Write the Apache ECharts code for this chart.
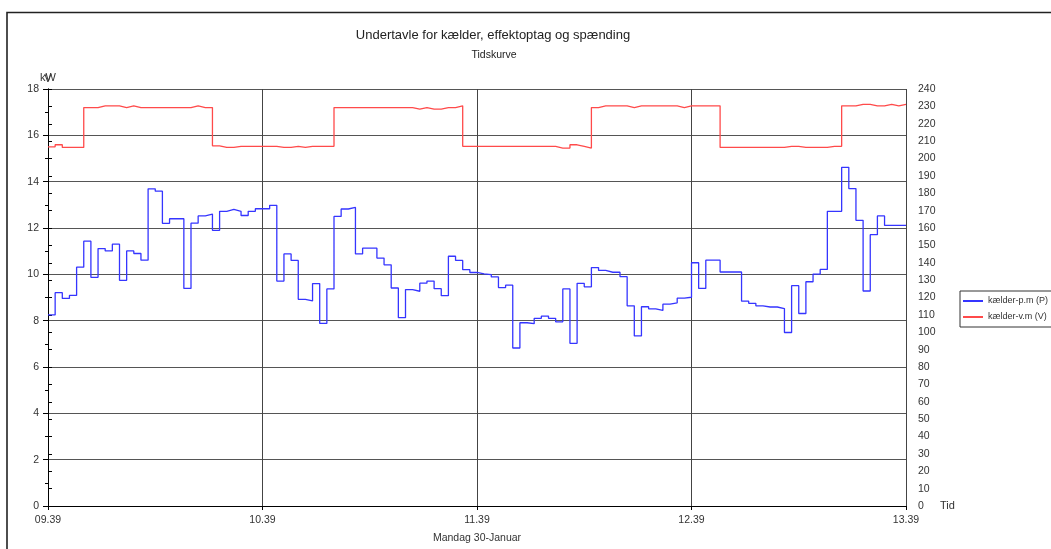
<!DOCTYPE html>
<html>
<head>
<meta charset="utf-8">
<script src="https://cdn.jsdelivr.net/npm/echarts@6/dist/echarts.min.js"></script>
<style>
html,body{margin:0;padding:0;background:#fff;}
#chart{width:1051px;height:549px;}
</style>
</head>
<body>
<div id="chart"></div>
<script>
// Time tick labels (one per hour) and sample step (minutes)
const xTickLabels = ['09.39', '10.39', '11.39', '12.39', '13.39'];
const stepMinutes = 2;
const totalMinutes = 240;

// kælder-p.m (P) in kW, one value per 2-minute interval
const powerKW = [
  8.25, 9.21, 8.96, 9.09, 10.31, 11.43, 9.87, 11.11, 11.01, 11.3,
  9.74, 11.01, 10.9, 10.61, 13.69, 13.59, 12.2, 12.4, 12.4, 9.39,
  12.21, 12.52, 12.6, 11.9, 12.72, 12.8, 12.72, 12.54, 12.72, 12.83,
  12.83, 12.98, 9.71, 10.88, 10.6, 8.92, 8.85, 9.6, 7.88, 9.37,
  12.5, 12.82, 12.89, 10.88, 11.13, 11.13, 10.7, 10.41, 9.41, 8.13,
  9.34, 9.27, 9.62, 9.71, 9.38, 9.08, 10.78, 10.6, 10.2, 10.08,
  10.02, 9.99, 9.89, 9.43, 9.53, 6.82, 7.91, 7.87, 8.1, 8.2,
  8.1, 7.95, 9.37, 7.02, 9.61, 9.46, 10.29, 10.17, 10.09, 10.09,
  9.9, 8.64, 7.34, 8.6, 8.51, 8.44, 8.71, 8.77, 8.97, 9.01,
  10.5, 9.39, 10.61, 10.61, 10.1, 10.1, 10.1, 8.84, 8.75, 8.64,
  8.59, 8.59, 8.52, 7.49, 9.51, 8.31, 9.68, 10.01, 10.21, 12.72,
  12.72, 14.62, 13.7, 12.33, 9.28, 11.71, 12.52, 12.11, 12.11, 12.11
];

// kælder-v.m (V) in volts, one value per 2-minute interval
const voltageV = [
  206.7, 207.9, 206.4, 206.4, 206.4, 229.3, 229.3, 230.3, 230.3, 230.3,
  229.3, 230.3, 229.3, 229.3, 229.3, 229.3, 229.3, 229.3, 229.3, 229.3,
  230.3, 229.3, 229.3, 207.3, 206.4, 206.4, 207.0, 207.0, 207.0, 207.0,
  207.0, 207.0, 206.4, 206.4, 207.0, 206.4, 207.0, 207.0, 207.0, 207.0,
  229.3, 229.3, 229.3, 229.3, 229.3, 229.3, 229.3, 229.3, 229.3, 229.3,
  229.3, 228.4, 229.3, 228.4, 228.4, 229.3, 229.3, 230.3, 207.0, 207.0,
  207.0, 207.0, 207.0, 207.0, 207.0, 207.0, 207.0, 207.0, 207.0, 207.0,
  207.0, 206.0, 206.0, 207.9, 207.0, 206.0, 229.3, 230.3, 230.3, 230.3,
  230.3, 229.3, 230.3, 230.3, 230.3, 230.3, 230.3, 230.3, 229.3, 230.3,
  230.3, 230.3, 230.3, 230.3, 206.4, 206.4, 206.4, 206.4, 206.4, 206.4,
  206.4, 206.4, 206.4, 207.0, 207.0, 206.4, 206.4, 206.4, 206.4, 207.0,
  207.0, 230.3, 230.3, 231.2, 231.2, 230.3, 230.3, 231.2, 230.3, 231.2
];

function toSteps(values) {
  const pts = values.map((v, i) => [i * stepMinutes, v]);
  pts.push([values.length * stepMinutes, values[values.length - 1]]);
  return pts;
}

const FONT = 'Liberation Sans, Arial, sans-serif';
const TXT = '#333';

const chart = echarts.init(document.getElementById('chart'), null, {renderer: 'canvas'});
chart.setOption({
  animation: false,
  backgroundColor: '#fff',
  textStyle: {fontFamily: FONT},
  title: [
    {text: 'Undertavle for kælder, effektoptag og spænding', left: 488, top: 24, textAlign: 'center',
     textStyle: {fontSize: 13, fontWeight: 'normal', color: '#222', fontFamily: FONT}},
    {text: 'Tidskurve', left: 489, top: 45, textAlign: 'center',
     textStyle: {fontSize: 10.5, fontWeight: 'normal', color: '#222', fontFamily: FONT}}
  ],
  legend: {
    orient: 'vertical', left: 960, top: 291,
    padding: [4, 6, 4, 3], itemGap: 4, itemWidth: 20, itemHeight: 2,
    borderColor: '#333', borderWidth: 1,
    icon: 'rect',
    textStyle: {fontSize: 9, color: TXT, fontFamily: FONT, lineHeight: 12},
    data: ['kælder-p.m (P)', 'kælder-v.m (V)']
  },
  grid: {left: 48, right: 145, top: 89, bottom: 41, containLabel: false},
  xAxis: [
    {
      type: 'value', min: 0, max: totalMinutes, interval: 60,
      name: 'Tid', nameLocation: 'end', nameGap: 34,
      nameTextStyle: {fontSize: 11, color: TXT, fontFamily: FONT, verticalAlign: 'middle', padding: [6, 0, 0, 0]},
      axisLine: {show: true, lineStyle: {color: '#000', width: 1}},
      axisTick: {show: true, length: 4, lineStyle: {color: '#000'}},
      axisLabel: {fontSize: 10.5, color: TXT, margin: 9, fontFamily: FONT,
        formatter: v => xTickLabels[Math.round(v / 60)] || ''},
      splitLine: {show: true, lineStyle: {color: '#444', width: 1}}
    },
    {
      type: 'value', min: 0, max: totalMinutes, position: 'bottom',
      name: 'Mandag 30-Januar', nameLocation: 'middle', nameGap: 27,
      nameTextStyle: {fontSize: 10.5, color: TXT, fontFamily: FONT},
      axisLine: {show: false}, axisTick: {show: false}, axisLabel: {show: false}, splitLine: {show: false}
    }
  ],
  yAxis: [
    {
      type: 'value', min: 0, max: 18, interval: 2, position: 'left',
      name: 'kW', nameLocation: 'end', nameGap: 5,
      nameTextStyle: {fontSize: 11, color: TXT, fontFamily: FONT},
      axisLine: {show: true, lineStyle: {color: '#000', width: 1}},
      axisTick: {show: true, length: 5, lineStyle: {color: '#000'}},
      minorTick: {show: true, splitNumber: 2, length: 3, lineStyle: {color: '#000'}},
      axisLabel: {fontSize: 10.5, color: TXT, margin: 9, fontFamily: FONT},
      splitLine: {show: true, lineStyle: {color: '#555', width: 1}}
    },
    {
      type: 'value', min: 0, max: 240, interval: 10, position: 'right',
      name: 'V', nameLocation: 'end', nameGap: 5,
      nameTextStyle: {fontSize: 11, color: TXT, fontFamily: FONT},
      axisLine: {show: true, lineStyle: {color: '#000', width: 1}},
      axisTick: {show: true, length: 4, lineStyle: {color: '#000'}},
      axisLabel: {fontSize: 10.5, color: TXT, margin: 12, fontFamily: FONT},
      splitLine: {show: false}
    }
  ],
  series: [
    {
      name: 'kælder-p.m (P)', type: 'line', step: 'end', xAxisIndex: 0, yAxisIndex: 0,
      data: toSteps(powerKW), showSymbol: false, symbol: 'none',
      itemStyle: {color: '#3535ff'},
      lineStyle: {color: '#3535ff', width: 1.3}
    },
    {
      name: 'kælder-v.m (V)', type: 'line', step: 'end', xAxisIndex: 0, yAxisIndex: 1,
      data: toSteps(voltageV), showSymbol: false, symbol: 'none',
      itemStyle: {color: '#ff4a4a'},
      lineStyle: {color: '#ff4a4a', width: 1.3}
    }
  ],
  graphic: [
    {type: 'polyline', silent: true,
     shape: {points: [[7, 549], [7, 12.5], [1051, 12.5]]},
     style: {stroke: '#222', lineWidth: 1.6, fill: null}}
  ]
});
</script>
</body>
</html>
